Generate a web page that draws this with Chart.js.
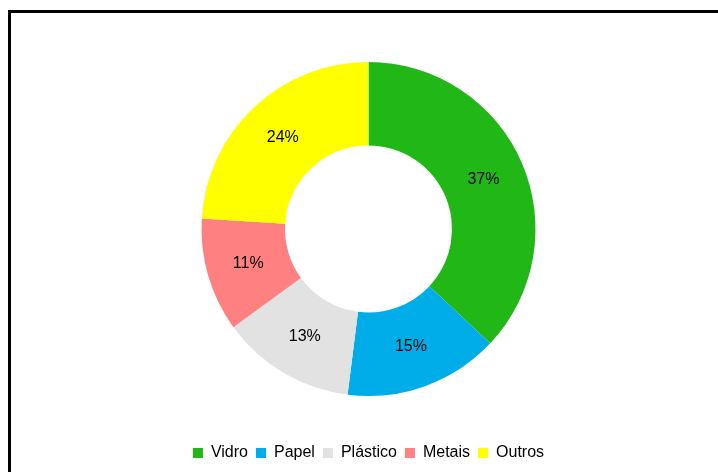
<!DOCTYPE html>
<html>
<head>
<meta charset="utf-8">
<script src="https://cdn.jsdelivr.net/npm/chart.js@4.4.1/dist/chart.umd.min.js"></script>
<style>
  html, body { margin: 0; padding: 0; background: #fff; overflow: hidden; }
  #wrap { position: relative; width: 718px; height: 472px; }
  #frame { position: absolute; left: 8px; top: 10px; width: 730px; height: 480px; border: 3px solid #000; box-sizing: border-box; pointer-events: none; }
  canvas { position: absolute; left: 0; top: 0; }
</style>
</head>
<body>
<div id="wrap">
  <canvas id="c" width="718" height="472"></canvas>
  <div id="frame"></div>
</div>
<script>
// Composição dos resíduos recolhidos (%)
const categories = ['Vidro', 'Papel', 'Plástico', 'Metais', 'Outros'];
const shares = [37, 15, 13, 11, 24];
const colors = ['#21B817', '#00ADE8', '#E2E2E2', '#FF8080', '#FFFF00'];

// Percentagem escrita a meio de cada fatia
const sliceLabels = {
  id: 'sliceLabels',
  afterDatasetsDraw(chart) {
    const ctx = chart.ctx;
    const meta = chart.getDatasetMeta(0);
    ctx.save();
    ctx.font = '16px "Liberation Sans", Arial, sans-serif';
    ctx.fillStyle = '#000';
    ctx.textAlign = 'center';
    ctx.textBaseline = 'middle';
    meta.data.forEach((arc, i) => {
      const p = arc.getProps(['x', 'y', 'startAngle', 'endAngle', 'innerRadius', 'outerRadius'], true);
      const a = (p.startAngle + p.endAngle) / 2;
      const r = (p.innerRadius + p.outerRadius) / 2;
      ctx.fillText(shares[i] + '%', p.x + r * Math.cos(a), p.y + r * Math.sin(a));
    });
    ctx.restore();
  }
};

new Chart(document.getElementById('c'), {
  type: 'doughnut',
  data: {
    labels: categories,
    datasets: [{
      data: shares,
      backgroundColor: colors,
      borderWidth: 0,
      radius: 167,
      cutout: '50%'
    }]
  },
  options: {
    responsive: false,
    animation: false,
    layout: { padding: { left: 19, right: 0, top: 21, bottom: 1 } },
    plugins: {
      tooltip: { enabled: false },
      legend: {
        position: 'bottom',
        labels: {
          boxWidth: 10,
          boxHeight: 10,
          padding: 8,
          color: '#000',
          font: { family: '"Liberation Sans", Arial, sans-serif', size: 16 }
        }
      }
    }
  },
  plugins: [sliceLabels]
});
</script>
</body>
</html>
